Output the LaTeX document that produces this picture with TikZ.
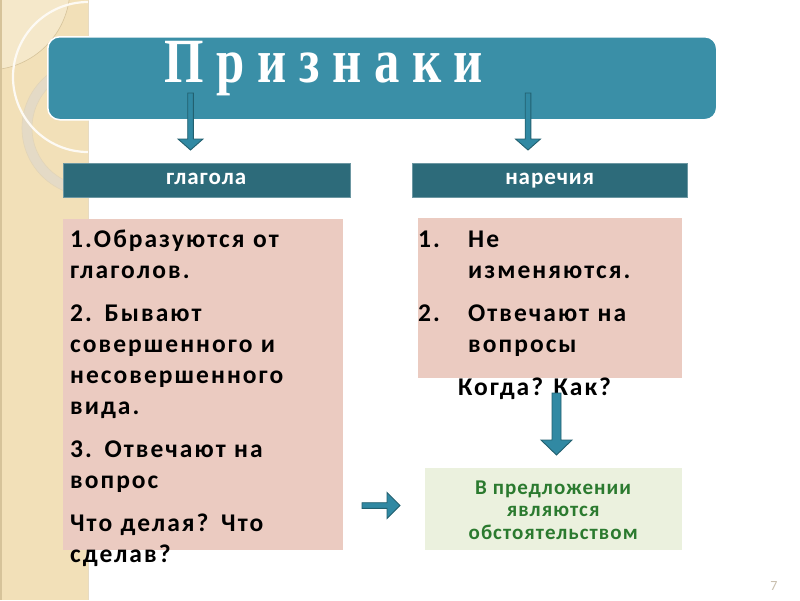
\documentclass[tikz,border=0pt]{standalone}
\usepackage{fontspec}
\setmainfont{Carlito}
\newfontfamily\titlefont{Liberation Serif}
\newfontfamily\bodyfont[LetterSpace=8]{Carlito}
\newfontfamily\headfont[LetterSpace=4]{Carlito}
\newfontfamily\greenfont[LetterSpace=5]{Carlito}
\usetikzlibrary{calc}
\definecolor{strip}{HTML}{F2E0B8}
\definecolor{stripline}{HTML}{D6C39A}
\definecolor{titleteal}{HTML}{3A8FA7}
\definecolor{headteal}{HTML}{2D6B7A}
\definecolor{pinkbox}{HTML}{EBCBC1}
\definecolor{greenbox}{HTML}{EBF1DE}
\definecolor{greentext}{HTML}{2B7A2F}
\definecolor{arrowfill}{HTML}{3189A3}
\definecolor{arrowline}{HTML}{22606F}
\definecolor{ringcol}{HTML}{E4DAC6}
\definecolor{pagenum}{HTML}{C9BFAE}
\newcommand\myvarrow[5]{% start, end, half shaft, half head, head length
  \draw[blockarrow] ($(#1)+(-#3,0)$) -- ($(#2)+(-#3,-#5)$) -- ($(#2)+(-#4,-#5)$) -- (#2)
    -- ($(#2)+(#4,-#5)$) -- ($(#2)+(#3,-#5)$) -- ($(#1)+(#3,0)$) -- cycle;}
\newcommand\myharrow[5]{%
  \draw[blockarrow] ($(#1)+(0,-#3)$) -- ($(#2)+(-#5,-#3)$) -- ($(#2)+(-#5,-#4)$) -- (#2)
    -- ($(#2)+(-#5,#4)$) -- ($(#2)+(-#5,#3)$) -- ($(#1)+(0,#3)$) -- cycle;}
\tikzset{
  blockarrow/.style={fill=arrowfill, draw=arrowline, line width=0.9pt, line join=miter},
  headbar/.style={fill=headteal, draw=headteal!70!white, line width=0.4pt, anchor=north west,
     inner sep=0pt, text=white, text height=12pt, text depth=4pt,
     font=\headfont\bfseries\fontsize{23}{26}\selectfont},
  pinkrect/.style={fill=pinkbox, anchor=north west, inner sep=0pt},
  bodytext/.style={anchor=base west, inner sep=0pt, align=left, text=black,
     font=\bodyfont\bfseries\fontsize{25.5}{31}\selectfont},
}
\begin{document}
\begin{tikzpicture}[x=1pt,y=-1pt]
\useasboundingbox (0,0) rectangle (800,600);
\fill[white] (0,0) rectangle (800,600);
% left decorative strip
\begin{scope}
  \clip (0,0) rectangle (88,600);
  \fill[strip] (0,0) rectangle (88,600);
  \fill[strip!75!white] (-12,-12) circle (82);
  \draw[stripline, line width=0.6pt] (-12,-12) circle (82);
  \draw[ringcol, line width=10pt] (90,128) circle (63);
  \draw[stripline!70!white, line width=0.6pt] (90,128) circle (68);
  \draw[stripline!70!white, line width=0.6pt] (90,128) circle (58);
  \draw[white!85!strip, line width=2.2pt] (88,77) circle (75);
\end{scope}
\draw[stripline, line width=1.5pt] (0.75,0) -- (0.75,600);
\draw[stripline!60!white, line width=0.6pt] (88,0) -- (88,600);
% title
\node[fill=titleteal, draw=white, line width=1.5pt, rounded corners=12pt, anchor=north west,
      minimum width=669pt, minimum height=83pt, inner sep=0pt] (title) at (47,36) {};
\node[anchor=base west, inner sep=0pt, text=white, font=\titlefont\bfseries\fontsize{63}{63}\selectfont]
      (titletext) at (164,82) {\scalebox{0.805}[1]{П р и з н а к и}};
% header bars
\node[headbar, minimum width=287pt, minimum height=34pt] (glag) at (62.5,163) {глагола};
\node[headbar, minimum width=275pt, minimum height=34pt] (nar) at (412,163) {наречия};
% pink boxes
\node[pinkrect, minimum width=280pt, minimum height=331pt] (lbox) at (63,219) {};
\node[pinkrect, minimum width=264pt, minimum height=160pt] (rbox) at (418,218) {};
% left text
\node[bodytext, text width=280pt] (ltext) at (70,247) {%
  \raggedright\setlength{\parskip}{12pt}%
  1.Образуются от\\ глаголов.\par
  2. Бывают\\ совершенного и\\ несовершенного\\ вида.\par
  3. Отвечают на\\ вопрос\par
  Что делая? Что\\ сделав?};
% right text
\node[bodytext, text width=270pt] (rtext) at (418,247) {%
  \raggedright\setlength{\parskip}{12pt}%
  \makebox[50pt][l]{1.}Не\\ \hspace*{50pt}изменяются.\par
  \makebox[50pt][l]{2.}Отвечают на\\ \hspace*{50pt}вопросы};
\node[anchor=base west, inner sep=0pt, font=\bodyfont\bfseries\fontsize{25.5}{31}\selectfont] (kogda) at (458,395) {Когда? Как?};
% green box
\node[fill=greenbox, anchor=north west, minimum width=257pt, minimum height=82pt, inner sep=0pt] (gbox) at (425,468) {};
\node[align=center, text=greentext, inner sep=0pt, font=\greenfont\bfseries\fontsize{21}{22.5}\selectfont] (gtext) at ($(gbox.center)+(-0.5,1)$)
  {В предложении\\ являются\\ обстоятельством};
% arrows
\coordinate (a1s) at (190.5,93);
\coordinate (a1e) at (190.5,150);
\coordinate (a2s) at (528,93);
\coordinate (a2e) at (528,150);
\coordinate (a3s) at (556.5,393);
\coordinate (a3e) at (556.5,455);
\coordinate (a4s) at (362,505.5);
\coordinate (a4e) at (400,505.5);
\myvarrow{a1s}{a1e}{2.8}{12.5}{11}
\myvarrow{a2s}{a2e}{2.8}{12.5}{11}
\myvarrow{a3s}{a3e}{4.5}{15.5}{15}
\myharrow{a4s}{a4e}{2.8}{13}{13}
% page number
\node[text=pagenum, font=\fontsize{14}{14}\selectfont, anchor=base] (pg) at (774,590) {7};
\end{tikzpicture}
\end{document}
